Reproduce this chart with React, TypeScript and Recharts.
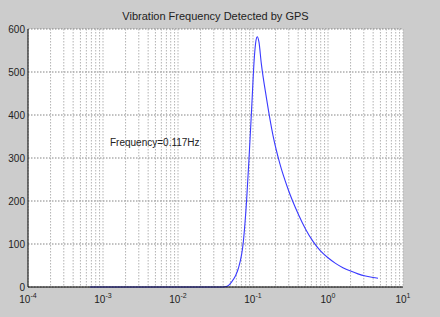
import React from 'react';
import { LineChart, Line, XAxis, YAxis, CartesianGrid, ReferenceDot } from 'recharts';

const freqHz = [0.00067, 0.03, 0.04, 0.044, 0.048, 0.052, 0.058, 0.0637, 0.0743, 0.0824, 0.0885, 0.096, 0.104, 0.11, 0.114, 0.12, 0.129, 0.151, 0.185, 0.227, 0.293, 0.398, 0.501, 0.631, 0.794, 1.0, 1.26, 1.58, 2.0, 2.51, 3.16, 3.98, 4.64];
const amplitude = [0, 0, 0, 1, 5, 12, 25, 43, 105, 205, 299, 416, 532, 575, 582, 570, 520, 440, 352, 288, 228, 171, 135, 106, 84, 68, 55, 45, 37, 30.5, 25.5, 22, 20.5];
const yTicks = [0, 100, 200, 300, 400, 500, 600];
const decadeExps = [-4, -3, -2, -1, 0, 1];
const title = 'Vibration Frequency Detected by GPS';
const annotation = 'Frequency=0.117Hz';
const annotationAt = { x: 0.00124, y: 328 };

const xTicks: number[] = [];
decadeExps.forEach((e) => {
  if (e === 1) {
    xTicks.push(10);
    return;
  }
  for (let m = 1; m <= 9; m++) xTicks.push(parseFloat((m * Math.pow(10, e)).toPrecision(3)));
});

const data = freqHz.map((f, i) => ({ f, a: amplitude[i] }));

const FONT = '"Liberation Sans", Arial, Helvetica, sans-serif';

const XTick = (props: any) => {
  const { x, payload } = props;
  const v = payload.value;
  const e = Math.log10(v);
  if (Math.abs(e - Math.round(e)) > 1e-6) return null;
  return (
    <text x={x} y={303} textAnchor="middle" fontFamily={FONT} fontSize={10} fill="#222">
      10
      <tspan dy={-5} fontSize={7}>{Math.round(e)}</tspan>
    </text>
  );
};

const YTick = (props: any) => {
  const { y, payload } = props;
  return (
    <text x={25} y={y + 3.5} textAnchor="end" fontFamily={FONT} fontSize={10} fill="#222">
      {payload.value}
    </text>
  );
};

export default function App() {
  return (
    <div style={{ position: 'absolute', left: 0, top: 0, width: 440, height: 317, background: '#cccccc' }}>
      <LineChart width={440} height={317} data={data} margin={{ top: 29, right: 37, bottom: 0, left: 0 }}>
        <text x={215.5} y={20} textAnchor="middle" fontFamily={FONT} fontSize={11} fill="#222">
          {title}
        </text>
        <CartesianGrid vertical={false} stroke="#777" strokeDasharray="1.5 1.5" strokeWidth={0.9} fill="#ffffff" fillOpacity={1} />
        <CartesianGrid horizontal={false} stroke="#aaa" strokeDasharray="1.5 1.5" strokeWidth={0.9} />
        <XAxis
          dataKey="f"
          type="number"
          scale="log"
          domain={[0.0001, 10]}
          ticks={xTicks}
          interval={0}
          allowDataOverflow
          height={30}
          tick={<XTick />}
          tickLine={false}
          axisLine={{ stroke: '#000' }}
        />
        <XAxis
          xAxisId="top"
          orientation="top"
          dataKey="f"
          type="number"
          scale="log"
          domain={[0.0001, 10]}
          allowDataOverflow
          height={0}
          tick={false}
          tickLine={false}
          axisLine={{ stroke: '#000' }}
        />
        <YAxis
          type="number"
          domain={[0, 600]}
          ticks={yTicks}
          interval={0}
          width={28}
          tick={<YTick />}
          tickLine={false}
          axisLine={{ stroke: '#000' }}
        />
        <YAxis
          yAxisId="right"
          orientation="right"
          type="number"
          domain={[0, 600]}
          width={0}
          tick={false}
          tickLine={false}
          axisLine={{ stroke: '#000' }}
        />
        <Line
          dataKey="a"
          type="monotone"
          stroke="#3a3aff"
          strokeWidth={1.1}
          dot={false}
          isAnimationActive={false}
        />
        <ReferenceDot
          x={annotationAt.x}
          y={annotationAt.y}
          r={0}
          shape={(p: any) => (
            <text x={p.cx} y={p.cy} fontFamily={FONT} fontSize={10} fill="#222">
              {annotation}
            </text>
          )}
        />
      </LineChart>
    </div>
  );
}
